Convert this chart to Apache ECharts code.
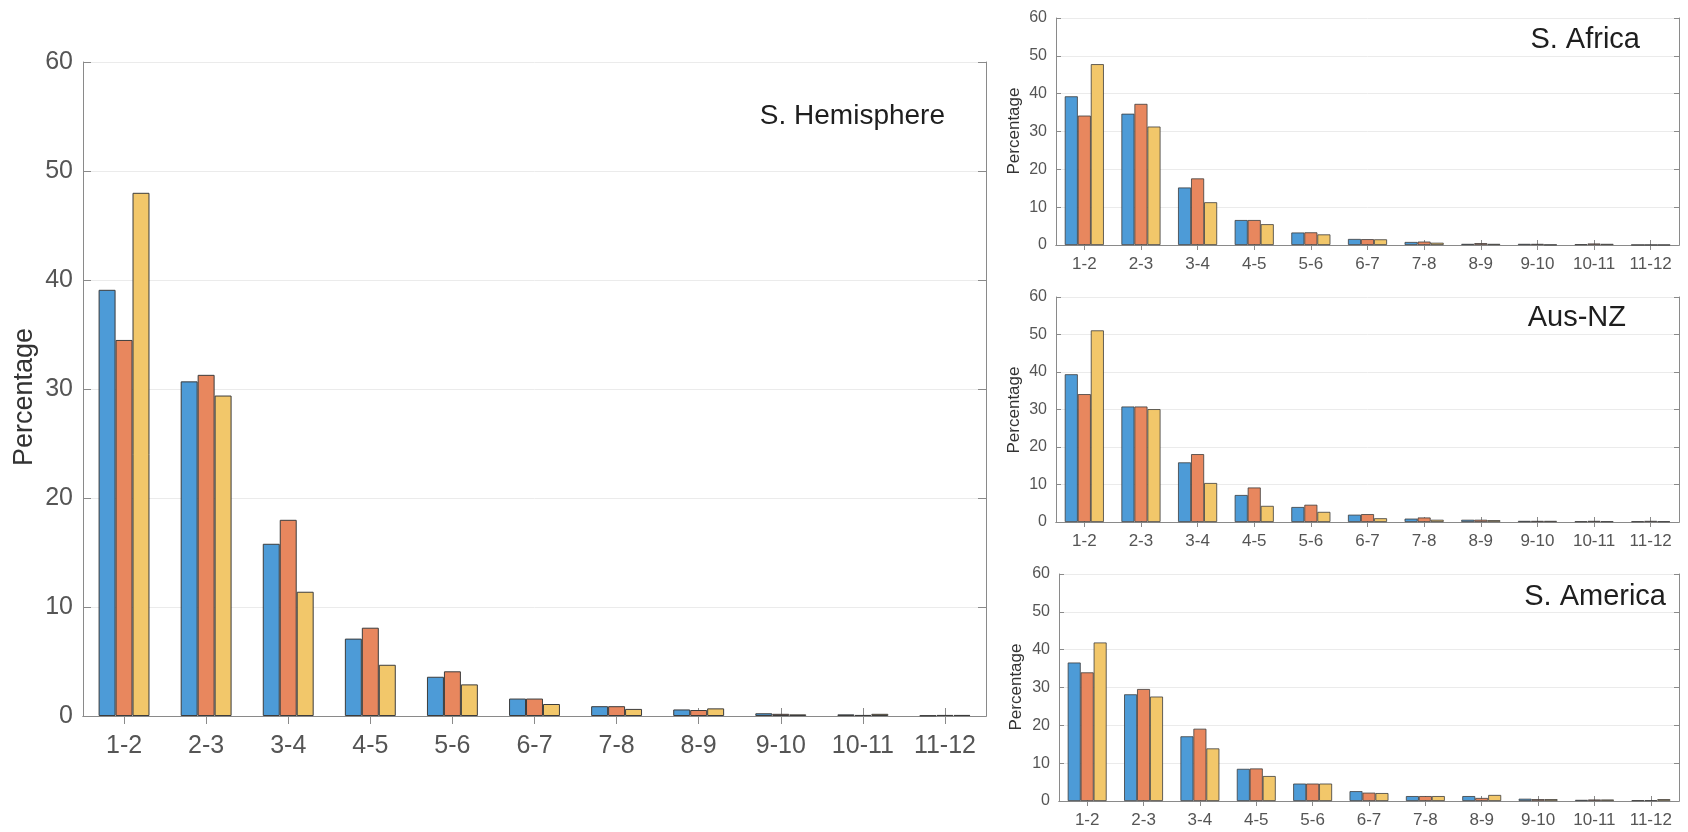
<!DOCTYPE html>
<html>
<head>
<meta charset="utf-8">
<script src="https://cdn.jsdelivr.net/npm/echarts@6/dist/echarts.min.js"></script>
<style>
html,body{margin:0;padding:0;background:#fff;}
#chart{width:1688px;height:832px;}
</style>
</head>
<body>
<div id="chart"></div>
<script>
// ---- data ----
const categories = ['1-2','2-3','3-4','4-5','5-6','6-7','7-8','8-9','9-10','10-11','11-12'];
const yTickMin = 0, yTickMax = 60, yTickStep = 10;
const seriesNames = ['Series 1','Series 2','Series 3'];

const panelTitles = ['S. Hemisphere','S. Africa','Aus-NZ','S. America'];
const yAxisTitle = 'Percentage';

const shBlue   = [39.1,30.7,15.8,7.1,3.6,1.6,0.9,0.6,0.25,0.15,0.05];
const shOrange = [34.5,31.3,18.0,8.1,4.1,1.6,0.9,0.55,0.2,0.1,0.1];
const shYellow = [48.0,29.4,11.4,4.7,2.9,1.1,0.65,0.7,0.15,0.2,0.1];

const afBlue   = [39.3,34.7,15.2,6.6,3.3,1.6,0.8,0.3,0.3,0.2,0.05];
const afOrange = [34.2,37.3,17.6,6.6,3.35,1.55,0.9,0.5,0.3,0.4,0.05];
const afYellow = [47.8,31.3,11.3,5.5,2.8,1.5,0.6,0.3,0.1,0.3,0.05];

const anBlue   = [39.4,30.8,15.9,7.2,4.0,1.95,0.9,0.6,0.3,0.2,0.2];
const anOrange = [34.1,30.8,18.1,9.2,4.6,2.1,1.2,0.6,0.3,0.3,0.3];
const anYellow = [51.1,30.1,10.4,4.3,2.7,1.0,0.6,0.5,0.3,0.2,0.2];

const saBlue   = [36.6,28.2,17.1,8.5,4.6,2.6,1.3,1.3,0.6,0.3,0.2];
const saOrange = [34.0,29.6,19.1,8.6,4.6,2.2,1.3,0.8,0.5,0.4,0.2];
const saYellow = [41.9,27.6,13.9,6.6,4.6,2.1,1.3,1.6,0.5,0.4,0.5];

// ---- layout / style ----
const FONT = '"Liberation Sans", Arial, Helvetica, sans-serif';
const colors = ['#4d9bd7','#e8875e','#f2c76a'];
const axisColor = '#8a8a8a';
const gridColor = '#ebebeb';
const tickColor = '#555555';

const panels = [
  {data:[shBlue,shOrange,shYellow], left:83, top:62, width:903, height:654,
   xFont:25, yFont:25, xMargin:18, yMargin:10, tick:8, gap:'38%', border:1,
   title:{x:945, y:116, size:28}, ylab:{x:25, y:397, size:27}},
  {data:[afBlue,afOrange,afYellow], left:1056, top:18, width:623, height:227,
   xFont:17, yFont:16, xMargin:11, yMargin:9, tick:5, gap:'31%', border:0.8,
   title:{x:1640, y:40, size:29}, ylab:{x:1014, y:131, size:17}},
  {data:[anBlue,anOrange,anYellow], left:1056, top:297, width:623, height:225,
   xFont:17, yFont:16, xMargin:11, yMargin:9, tick:5, gap:'31%', border:0.8,
   title:{x:1626, y:318, size:29}, ylab:{x:1014, y:410, size:17}},
  {data:[saBlue,saOrange,saYellow], left:1059, top:574, width:620, height:227,
   xFont:17, yFont:16, xMargin:11, yMargin:9, tick:5, gap:'31%', border:0.8,
   title:{x:1666, y:597, size:29}, ylab:{x:1016, y:687, size:17}}
];

const grid = [], xAxis = [], yAxis = [], series = [], graphic = [];
panels.forEach((p, i) => {
  grid.push({left:p.left, top:p.top, width:p.width, height:p.height, containLabel:false});
  xAxis.push({
    type:'category', data:categories, gridIndex:i, position:'bottom',
    axisLine:{show:true, lineStyle:{color:axisColor, width:1}},
    axisTick:{show:true, inside:true, alignWithLabel:true, length:p.tick, lineStyle:{color:axisColor}},
    axisLabel:{color:tickColor, fontSize:p.xFont, fontFamily:FONT, margin:p.xMargin, interval:0},
    splitLine:{show:false}
  });
  xAxis.push({
    type:'category', data:categories, gridIndex:i, position:'top',
    axisLine:{show:true, lineStyle:{color:axisColor, width:1}},
    axisTick:{show:true, inside:true, alignWithLabel:true, length:p.tick, lineStyle:{color:axisColor}},
    axisLabel:{show:false}, splitLine:{show:false}
  });
  yAxis.push({
    type:'value', gridIndex:i, position:'left', min:yTickMin, max:yTickMax, interval:yTickStep,
    axisLine:{show:true, lineStyle:{color:axisColor, width:1}},
    axisTick:{show:true, inside:true, length:p.tick, lineStyle:{color:axisColor}},
    axisLabel:{color:tickColor, fontSize:p.yFont, fontFamily:FONT, margin:p.yMargin},
    splitLine:{show:true, lineStyle:{color:gridColor, width:1}}
  });
  yAxis.push({
    type:'value', gridIndex:i, position:'right', min:yTickMin, max:yTickMax, interval:yTickStep,
    axisLine:{show:true, lineStyle:{color:axisColor, width:1}},
    axisTick:{show:true, inside:true, length:p.tick, lineStyle:{color:axisColor}},
    axisLabel:{show:false}, splitLine:{show:false}
  });
  p.data.forEach((arr, k) => {
    series.push({
      type:'bar', name:seriesNames[k], data:arr,
      xAxisIndex:2*i, yAxisIndex:2*i,
      barGap:'0%', barCategoryGap:p.gap,
      itemStyle:{color:colors[k], borderColor:'#3c3c3c', borderWidth:p.border},
      emphasis:{disabled:true}, animation:false
    });
  });
  graphic.push({
    type:'text', x:p.title.x, y:p.title.y,
    style:{text:panelTitles[i], fill:'#1e1e1e', font:`${p.title.size}px ${FONT}`,
           textAlign:'right', textVerticalAlign:'middle'}
  });
  graphic.push({
    type:'text', x:p.ylab.x, y:p.ylab.y, rotation:Math.PI/2,
    style:{text:yAxisTitle, fill:'#333333', font:`${p.ylab.size}px ${FONT}`,
           textAlign:'center', textVerticalAlign:'middle'}
  });
});

const chart = echarts.init(document.getElementById('chart'), null, {renderer:'canvas'});
chart.setOption({
  animation:false,
  backgroundColor:'#ffffff',
  grid, xAxis, yAxis, series, graphic
});
</script>
</body>
</html>
